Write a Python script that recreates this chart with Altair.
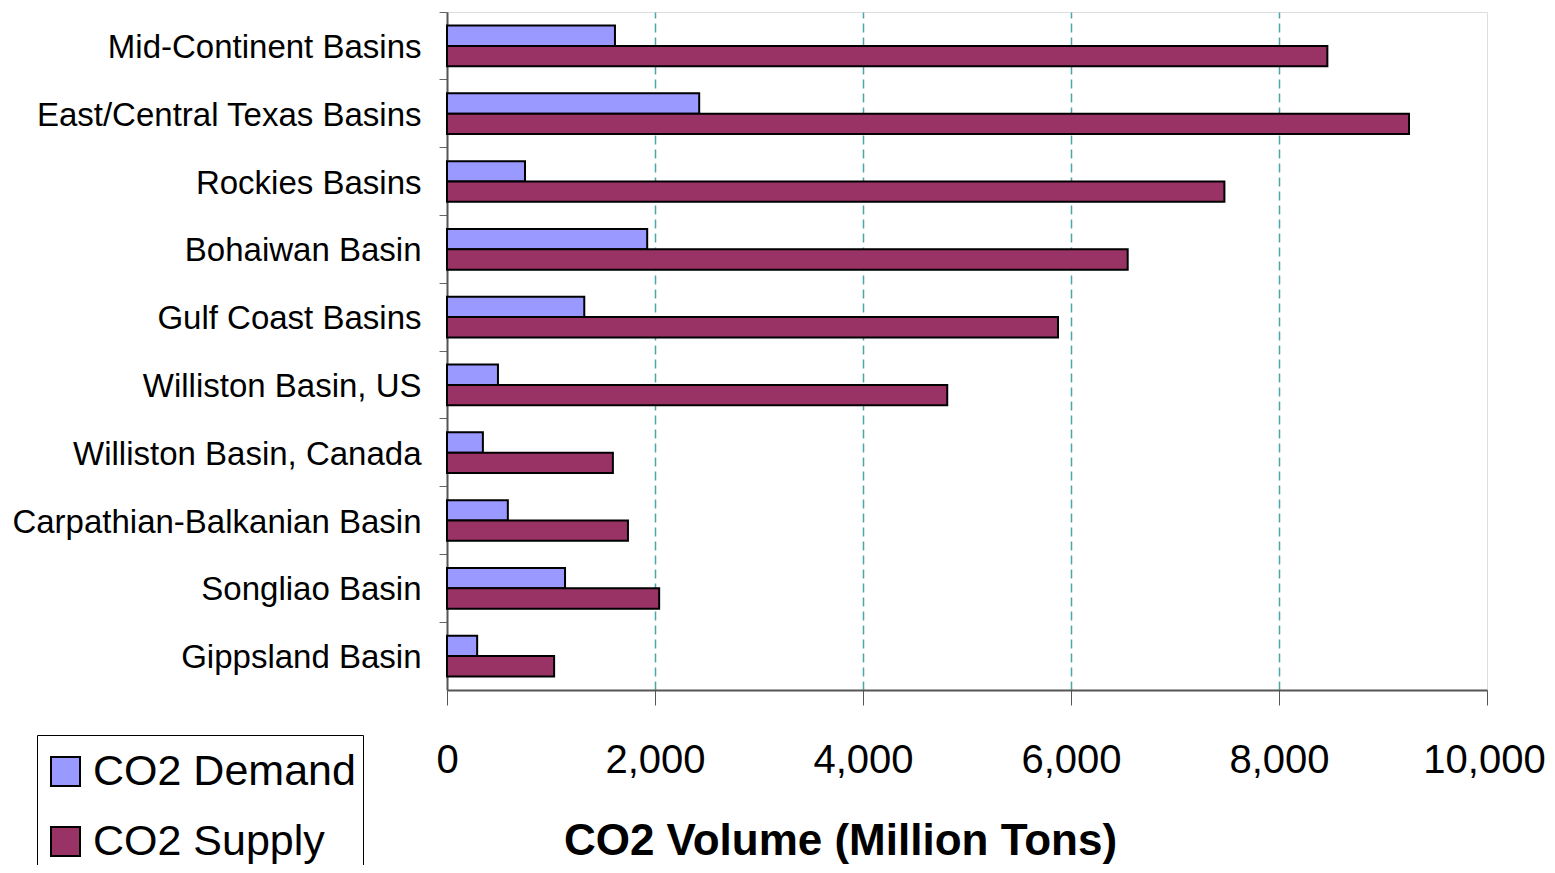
import altair as alt
import pandas as pd

basins = [
    "Mid-Continent Basins",
    "East/Central Texas Basins",
    "Rockies Basins",
    "Bohaiwan Basin",
    "Gulf Coast Basins",
    "Williston Basin, US",
    "Williston Basin, Canada",
    "Carpathian-Balkanian Basin",
    "Songliao Basin",
    "Gippsland Basin",
]
demand = [1615, 2425, 750, 1925, 1320, 490, 345, 585, 1135, 290]
supply = [8465, 9250, 7475, 6545, 5875, 4810, 1595, 1740, 2040, 1030]
series = ["CO2 Demand", "CO2 Supply"]
colors = ["#9999FF", "#993366"]
x_ticks = [0, 2000, 4000, 6000, 8000, 10000]

rows = []
for b, d, s in zip(basins, demand, supply):
    rows.append({"basin": b, "series": series[0], "value": d})
    rows.append({"basin": b, "series": series[1], "value": s})
df = pd.DataFrame(rows)

FONT = "Liberation Sans"
edge = "datum.value == 0 || datum.value == 10000"

chart = (
    alt.Chart(df)
    .mark_bar(stroke="black", strokeWidth=2)
    .encode(
        y=alt.Y(
            "basin:N",
            sort=basins,
            scale=alt.Scale(paddingInner=0.4, paddingOuter=0.2),
            axis=alt.Axis(
                title=None,
                labelFontSize=33,
                labelFont=FONT,
                labelColor="black",
                labelPadding=18,
                labelOffset=2,
                tickSize=8,
                tickColor="#666666",
                domainColor="#555555",
                domainWidth=2,
                bandPosition=-0.3333,
                labelLimit=600,
            ),
        ),
        yOffset=alt.YOffset("series:N", sort=series),
        x=alt.X(
            "value:Q",
            scale=alt.Scale(domain=[0, 10000], nice=False),
            axis=alt.Axis(
                title="CO2 Volume (Million Tons)",
                values=x_ticks,
                format=",d",
                labelFontSize=40,
                labelFont=FONT,
                labelColor="black",
                labelBaseline="middle",
                labelPadding=55,
                labelFlush=False,
                labelOffset=alt.condition("datum.value == 10000", alt.value(-3), alt.value(0)),
                tickSize=15,
                tickColor="#555555",
                domainColor="#555555",
                domainWidth=2,
                grid=True,
                gridColor=alt.condition(edge, alt.value("transparent"), alt.value("#4AA8A8")),
                gridDash=[9, 5],
                gridWidth=1.5,
                titleFontSize=44,
                titleFont=FONT,
                titleFontWeight="bold",
                titleColor="black",
                titleX=393,
                titleY=164,
                titleBaseline="alphabetic",
                titleAlign="center",
            ),
        ),
        color=alt.Color(
            "series:N",
            sort=series,
            scale=alt.Scale(domain=series, range=colors),
            legend=alt.Legend(
                title=" ",
                titleFontSize=1,
                titlePadding=7,
                orient="none",
                legendX=-410,
                legendY=723,
                direction="vertical",
                symbolType="square",
                symbolSize=841,
                symbolStrokeColor="black",
                symbolStrokeWidth=2,
                labelFontSize=43,
                labelFont=FONT,
                labelColor="black",
                labelOffset=6,
                rowPadding=26,
                padding=7,
                strokeColor="black",
                fillColor="white",
                labelLimit=600,
            ),
        ),
    )
    .properties(
        width=1040,
        height=678,
        autosize=alt.AutoSizeParams(type="none"),
        padding={"left": 439, "top": 4, "right": 60, "bottom": 175},
    )
    .configure_view(stroke="#808080", strokeWidth=2.5)
    .configure(background="white")
)

chart.save("out.html", embed_options={"renderer": "svg", "actions": False})
